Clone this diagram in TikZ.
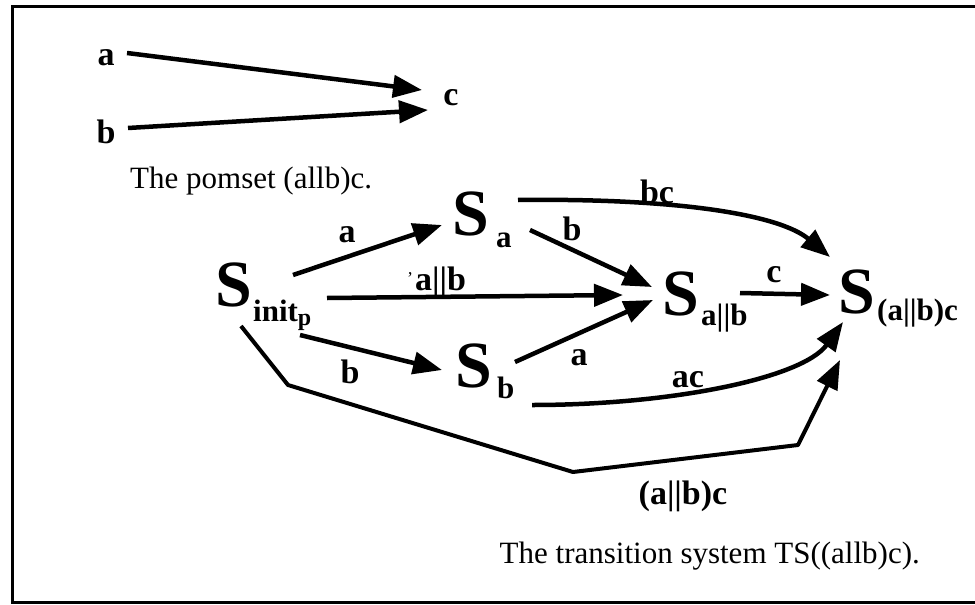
\documentclass[tikz,border=0pt]{standalone}
\usepackage{fontspec}
\setmainfont{Liberation Serif}
\usetikzlibrary{arrows.meta,calc}
\begin{document}
\begin{tikzpicture}[x=1pt,y=-1pt,
  lbl/.style={font=\fontsize{34}{38}\selectfont\bfseries, inner sep=0pt, anchor=base},
  subl/.style={font=\fontsize{31}{36}\selectfont\bfseries, inner sep=0pt, anchor=base west},
  st/.style={font=\fontsize{66}{70}\selectfont\bfseries, inner sep=0pt},
  captext/.style={font=\fontsize{31}{36}\selectfont, inner sep=0pt},
  arr/.style={line width=4.5pt, -{Triangle[length=29pt,width=22pt]}},
  poly/.style={line width=4pt, line join=round, -{Triangle[length=29pt,width=22pt]}},
  frame/.style={line width=3pt}
  ]
\useasboundingbox (0,0) rectangle (975,605);
\draw[frame] (975,6) -- (12,6) -- (12,602) -- (975,602);

% pomset
\node[lbl] (pa) at (106,65) {a};
\node[lbl] (pb) at (106,143) {b};
\node[lbl] (pc) at (451,105) {c};
\draw[arr] ([shift={(21,-12)}]pa.base) -- ([shift={(-29,-15)}]pc.base);
\draw[arr] ([shift={(22,-15)}]pb.base) -- ([shift={(-23,5)}]pc.base);
\node[captext, anchor=base west] (cap1) at (130,188) {The pomset (allb)c.};

% states
\node[st] (Sinit) at (234,285) {S};
\node[st] (Sa) at (471,214) {S};
\node[st] (Sb) at (474,366) {S};
\node[st] (Sab) at (681,294) {S};
\node[st] (Sabc) at (857,292) {S};
\node[subl] (Sinitsub) at (253,321) {init\raisebox{-4pt}{\fontsize{24}{28}\selectfont p}};
\node[subl] (Sasub) at (496,247) {a};
\node[subl] (Sbsub) at (497,398) {b};
\node[subl] (Sabsub) at (701,325) {a||b};
\node[subl] (Sabcsub) at (877,320) {(a||b)c};

% transitions
\draw[arr] ([shift={(59,-10)}]Sinit.center) -- ([shift={(-29,11)}]Sa.center);
\draw[arr] ([shift={(93,13)}]Sinit.center) -- ([shift={(-58,1)}]Sab.center);
\draw[arr] ([shift={(66,50)}]Sinit.center) -- ([shift={(-32,4)}]Sb.center);
\draw[arr] ([shift={(59,16)}]Sa.center) -- ([shift={(-29,-7)}]Sab.center);
\draw[arr] ([shift={(41,-4)}]Sb.center) -- ([shift={(-28,6)}]Sab.center);
\draw[arr] ([shift={(59,-1)}]Sab.center) -- ([shift={(-27,3)}]Sabc.center);
\draw[arr] ([shift={(47,-14)}]Sa.center) .. controls +(162,-2) and +(-50,-42) .. ([shift={(-27,-35)}]Sabc.center);
\draw[arr] ([shift={(58,39)}]Sb.center) .. controls +(140,0) and +(-40,56) .. ([shift={(-14,30)}]Sabc.center);
\draw[poly] ([shift={(7,41)}]Sinit.center) -- (288,385) -- (573,472) -- (798,445) -- ([shift={(-17,68)}]Sabc.center);

% labels
\node[lbl] (la) at (347,242) {a};
\node[lbl] (lb) at (572,240) {b};
\node[lbl, anchor=base west] (lab) at (407,290) {\raisebox{6pt}{\mdseries\fontsize{18}{18}\selectfont'}\kern2pt a||b};
\node[lbl] (lbc) at (657,203) {bc};
\node[lbl] (lc) at (774,282) {c};
\node[lbl] (lb2) at (350,383) {b};
\node[lbl] (la2) at (579,365) {a};
\node[lbl] (lac) at (688,387) {ac};
\node[lbl] (labc) at (683,504) {(a||b)c};

\node[captext, anchor=base east] (cap2) at (920,563) {The transition system TS((allb)c).};
\end{tikzpicture}
\end{document}
